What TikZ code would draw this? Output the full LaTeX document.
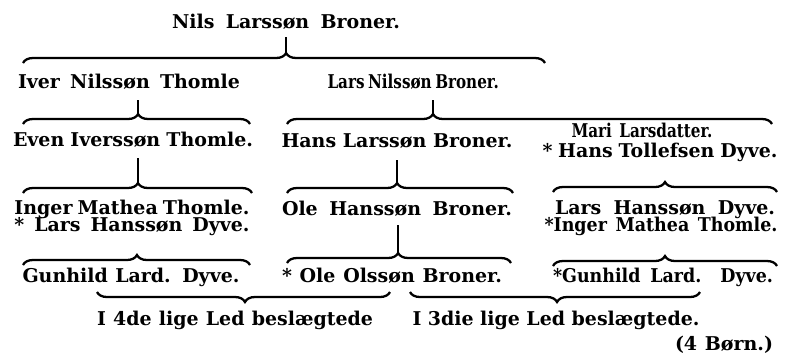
\documentclass[tikz,border=0pt]{standalone}
\usepackage{fontspec}
\setmainfont{DejaVu Serif}
\newfontfamily\snugfont[FakeStretch=0.92]{DejaVu Serif}
\newfontfamily\tightfont[FakeStretch=0.8]{DejaVu Serif}
\usepackage{tikz}
\usetikzlibrary{
	decorations.pathreplacing
}
\newlength\pxu
\setlength\pxu{0.02cm}
\newcommand\fitw[2]{\makebox[#1\pxu][s]{#2}}

\begin{document}
\begin{tikzpicture}[x=0.02cm,y=-0.02cm,
	person/.style={anchor=base,inner sep=0pt,font=\fontsize{10.8}{13}\selectfont\bfseries},
	snug/.style={font=\fontsize{10.8}{13}\snugfont\bfseries},
	tight/.style={font=\fontsize{10.8}{13}\tightfont\bfseries},
	over/.style={decorate,line width=1.3pt,decoration={brace,amplitude=0.2cm,aspect=#1}},
	tick/.style={line width=1.6pt}]
	
	\useasboundingbox (0,0) rectangle (785,363);
	
	% names, generation by generation
	\node[person] (nils) at (286,28) {\fitw{228}{Nils Larssøn Broner.}};
	
	\node[person] (iver) at (129,88) {\fitw{222}{Iver Nilssøn Thomle}};
	\node[person,tight] (larsN) at (412,88) {\fitw{169}{Lars Nilssøn Broner.}};
	
	\node[person] (even) at (133,146) {\fitw{240}{Even Iverssøn Thomle.}};
	\node[person] (hansL) at (397,147) {\fitw{231}{Hans Larssøn Broner.}};
	\node[person,tight] (mari) at (642,137) {\fitw{141}{Mari Larsdatter.}};
	\node[person] (hansT) at (660,157) {\fitw{235}{* Hans Tollefsen Dyve.}};
	
	\node[person] (inger) at (132,214) {\fitw{235}{Inger Mathea Thomle.}};
	\node[person] (larsD) at (132,231) {\fitw{235}{* Lars Hanssøn Dyve.}};
	\node[person] (oleH) at (397,215) {\fitw{230}{Ole Hanssøn Broner.}};
	\node[person] (larsH) at (665,214) {\fitw{220}{Lars Hanssøn Dyve.}};
	\node[person,snug] (ingerM) at (661,231) {\fitw{233}{*Inger Mathea Thomle.}};
	
	\node[person] (gunhildL) at (131,282) {\fitw{217}{Gunhild Lard. Dyve.}};
	\node[person] (oleO) at (392,282) {\fitw{220}{* Ole Olssøn Broner.}};
	\node[person,snug] (gunhildR) at (663,282) {\fitw{220}{*Gunhild Lard. Dyve.}};
	
	\node[person] (led4) at (235,325) {\fitw{276}{I 4de lige Led beslægtede}};
	\node[person] (led3) at (556,325) {\fitw{287}{I 3die lige Led beslægtede.}};
	\node[person] (born) at (724,350) {\fitw{98}{(4 Børn.)}};
	
	% brace tips
	\coordinate (t1) at (286,53);
	\coordinate (t2a) at (138,114);
	\coordinate (t2b) at (433,114);
	\coordinate (t3a) at (138,183);
	\coordinate (t3b) at (397,183);
	\coordinate (t4b) at (398,253);
	
	% braces
	\draw[over=0.504] (23,63) -- (545,63);
	\draw[over=0.507] (23,124) -- (250,124);
	\draw[over=0.301] (287,124) -- (772,124);
	\draw[over=0.502] (23,193) -- (252,193);
	\draw[over=0.487] (287,193) -- (513,193);
	\draw[over=0.5] (553,192) -- (777,192);
	\draw[over=0.502] (23,265) -- (250,265);
	\draw[over=0.496] (287,263) -- (511,263);
	\draw[over=0.5] (553,266) -- (777,266);
	\draw[over=0.495] (390,292) -- (97,292);
	\draw[over=0.493] (700,292) -- (410,292);
	
	% descent lines
	\draw[tick] (nils.base -| t1) ++(0,9) -- (t1);
	\draw[tick] (iver.base -| t2a) ++(0,12) -- (t2a);
	\draw[tick] (larsN.base -| t2b) ++(0,12) -- (t2b);
	\draw[tick] (even.base -| t3a) ++(0,12) -- (t3a);
	\draw[tick] (hansL.base -| t3b) ++(0,13) -- (t3b);
	\draw[tick] (oleH.base -| t4b) ++(0,10) -- (t4b);
	
\end{tikzpicture}
\end{document}
